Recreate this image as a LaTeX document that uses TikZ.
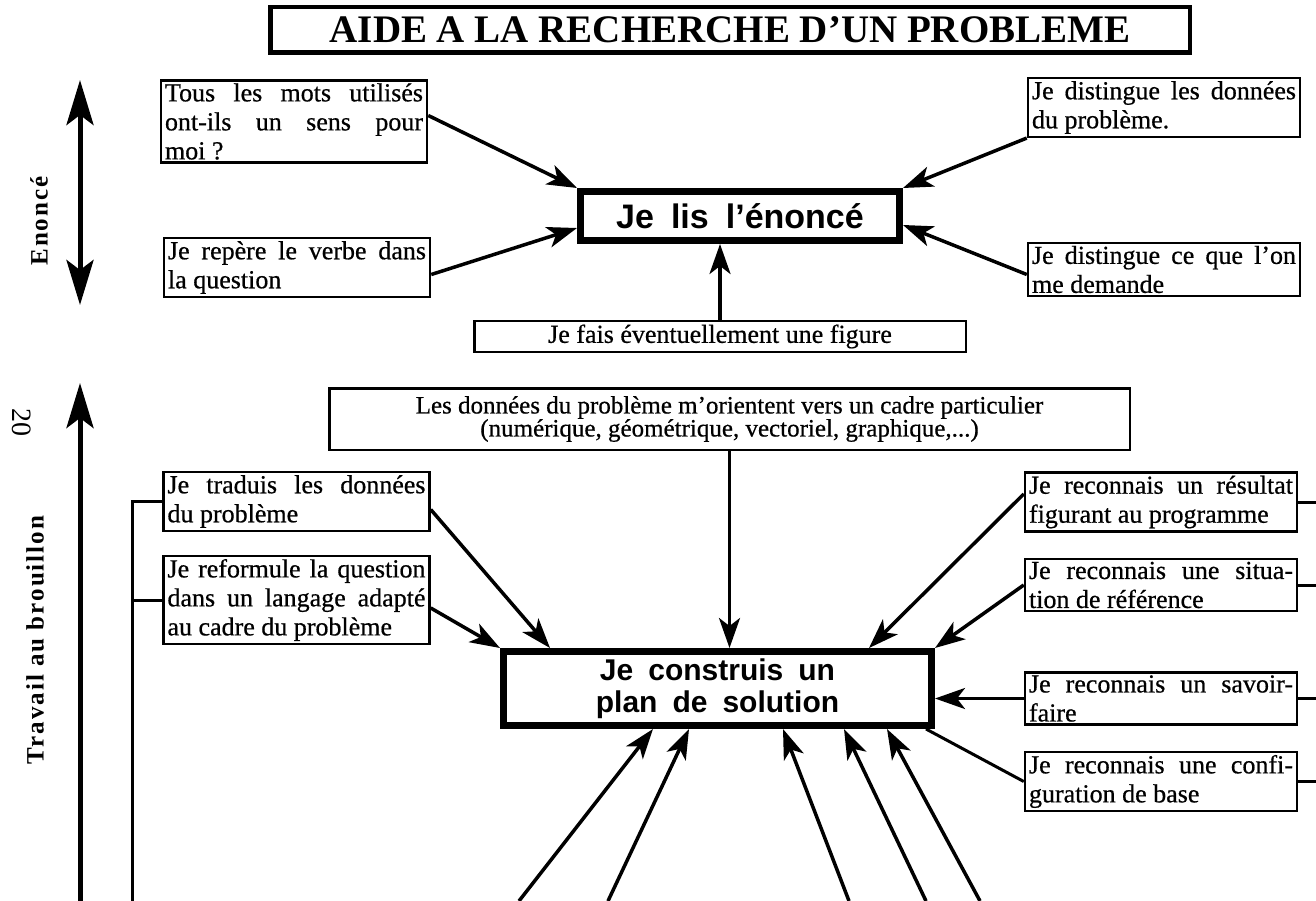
\documentclass[tikz,border=0pt]{standalone}
\usepackage{fontspec}
\setmainfont{Liberation Serif}
\newfontfamily\scanserif[FakeBold=0.6]{Liberation Serif}
\newfontfamily\headsans[WordSpace=1.8]{Liberation Sans}
\newfontfamily\spacedserif[LetterSpace=8]{Liberation Serif}
\usetikzlibrary{arrows.meta}
\setlength{\parindent}{0pt}
\tolerance=10000
\hyphenpenalty=10000
\tikzset{
  smallbox/.style={draw, line width=2.5pt, inner xsep=4pt, inner ysep=3pt, text width=258pt, align=justify, font=\fontsize{26}{29}\scanserif},
  thickbox/.style={draw, line width=7pt, align=center},
  pointer/.style={line width=3.5pt, -{Stealth[length=30pt,width=21pt,inset=8pt]}},
  link/.style={line width=3pt},
  sidearrow/.style={line width=5pt, {Stealth[length=45pt,width=27pt,inset=10pt]}-{Stealth[length=45pt,width=27pt,inset=10pt]}},
  uparrow/.style={line width=5pt, -{Stealth[length=45pt,width=27pt,inset=10pt]}},
  sidelabel/.style={font=\fontsize{25}{25}\spacedserif\bfseries, rotate=90}
}
\begin{document}
\begin{tikzpicture}[x=1pt,y=-1pt]
\useasboundingbox[fill=white] (0,0) rectangle (1316,901);
\node [draw, line width=4.5pt, minimum width=919.5pt, minimum height=45.5pt, font=\fontsize{39}{39}\selectfont\bfseries] (title) at (730,30) {AIDE A LA RECHERCHE D’UN PROBLEME};
\node [sidelabel] (enonce) at (39,221) {Enoncé};
\node [sidelabel] (travail) at (35,640) {Travail au brouillon};
\node [font=\fontsize{28}{28}\selectfont, rotate=-90] (page) at (22,422) {20};
\node [smallbox] (A) at (294,121.5) {Tous les mots utilisés\linebreak ont-ils un sens pour\linebreak moi~?};
\node [smallbox] (B) at (297,267.5) {Je repère le verbe dans\linebreak la question};
\node [smallbox, text width=264pt] (C) at (1164,107.5) {Je distingue les données\linebreak du problème.};
\node [smallbox, text width=264pt] (D) at (1164,269.5) {Je distingue ce que l’on\linebreak me demande};
\node [thickbox, minimum width=319pt, minimum height=49pt, font=\fontsize{34}{34}\headsans\bfseries] (E) at (740,216) {Je lis l’énoncé};
\node [draw, line width=2.5pt, minimum width=491.5pt, minimum height=30.5pt, font=\fontsize{26}{29}\scanserif] (F) at (720,336.5) {Je fais éventuellement une figure};
\node [draw, line width=2.5pt, minimum width=800.5pt, minimum height=61.5pt, align=center, font=\fontsize{25}{23}\scanserif] (I) at (729.5,419) {Les données du problème m’orientent vers un cadre particulier\\(numérique, géométrique, vectoriel, graphique,...)};
\node [smallbox] (G) at (296.5,501.5) {Je traduis les données\linebreak du problème};
\node [smallbox] (H) at (296.5,600) {Je reformule la question\linebreak dans un langage adapté\linebreak au cadre du problème};
\node [thickbox, minimum width=428pt, minimum height=74pt, font=\fontsize{30}{32}\headsans\bfseries] (K) at (717.5,688.5) {Je construis un\\plan de solution};
\node [smallbox, text width=264pt] (J1) at (1161,502) {Je reconnais un résultat\linebreak figurant au programme};
\node [smallbox, text width=264pt] (J2) at (1161,585) {Je reconnais une situa-\linebreak tion de référence};
\node [smallbox, text width=264pt] (J3) at (1161,698.5) {Je reconnais un savoir-\linebreak faire};
\node [smallbox, text width=264pt] (J4) at (1161,781.5) {Je reconnais une confi-\linebreak guration de base};
\coordinate (entop) at (80,80);
\coordinate (enbot) at (80,305);
\coordinate (trbot) at (80,901);
\coordinate (trtop) at (80,383);
\coordinate (treefoot) at (132,901);
\coordinate (rim) at (1316,0);
\coordinate (f1) at (519,901);
\coordinate (f2) at (608,901);
\coordinate (f3) at (849,901);
\coordinate (f4) at (926,901);
\coordinate (f5) at (980,901);
\draw [sidearrow] (entop) -- (enbot);
\draw [uparrow] (trbot) -- (trtop);
\draw [link] (G.west) -| (treefoot);
\draw [link] (H.west) -- (H.west -| treefoot);
\draw [pointer] ([yshift=6pt]A.east) -- (E.north west);
\draw [pointer] ([yshift=-7pt]B.east) -- ([yshift=-12pt]E.west);
\draw [pointer] (C.south west) -- (E.north east);
\draw [pointer] ([yshift=-5pt]D.west) -- ([yshift=-9pt]E.east);
\draw [pointer] (F.north) -- (F.north |- E.south);
\draw [pointer] (I.south) -- (I.south |- K.north);
\draw [pointer] ([yshift=-8pt]G.east) -- ([xshift=50pt]K.north west);
\draw [pointer] ([yshift=-8pt]H.east) -- (K.north west);
\draw [pointer] ([yshift=8pt]J1.west) -- ([xshift=-66pt]K.north east);
\draw [pointer] (J2.west) -- (K.north east);
\draw [pointer] (J3.west) -- (J3.west -| K.east);
\draw [link] (J4.west) -- ([xshift=-9pt]K.south east);
\draw [link] (J1.east) -- (J1.east -| rim);
\draw [link] (J2.east) -- (J2.east -| rim);
\draw [link] (J3.east) -- (J3.east -| rim);
\draw [link] (J4.east) -- (J4.east -| rim);
\draw [pointer] (f1) -- ([xshift=-64.5pt]K.south);
\draw [pointer] (f2) -- ([xshift=-28.5pt]K.south);
\draw [pointer] (f3) -- ([xshift=65.5pt]K.south);
\draw [pointer] (f4) -- ([xshift=126.5pt]K.south);
\draw [pointer] (f5) -- ([xshift=169.5pt]K.south);
\end{tikzpicture}
\end{document}
